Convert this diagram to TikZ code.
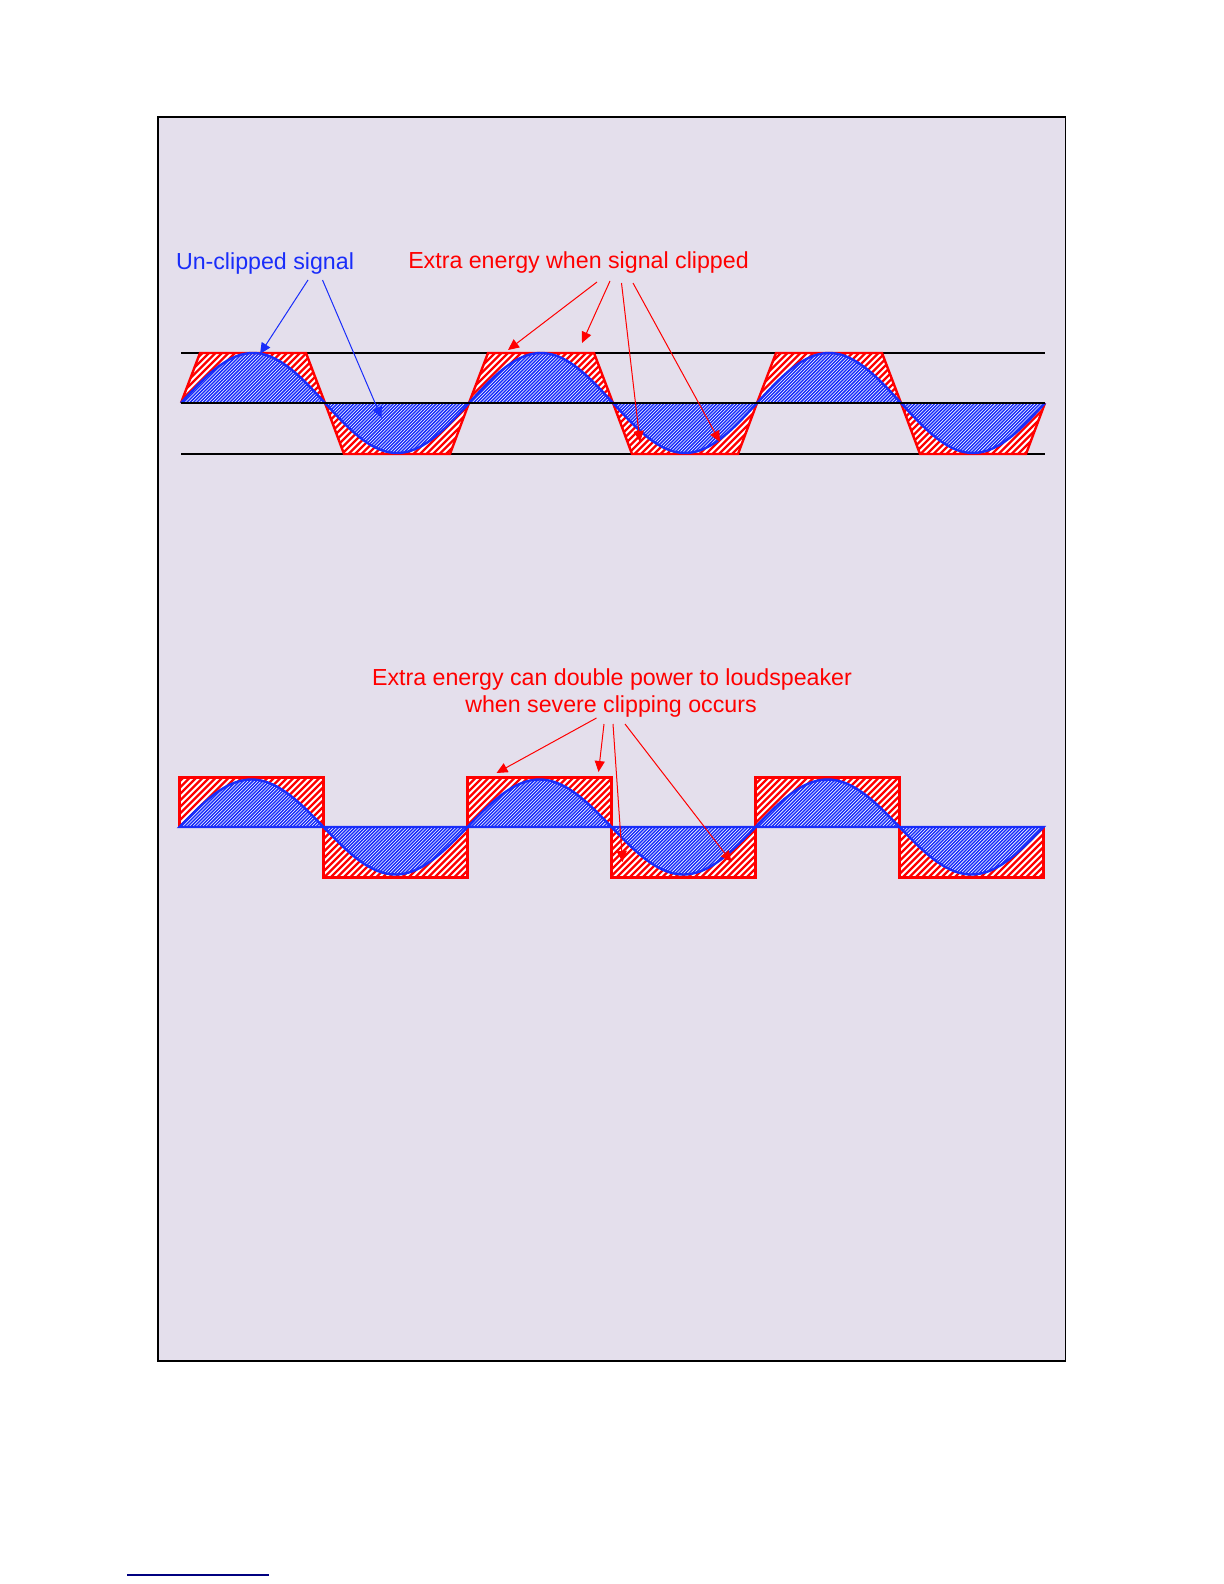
\documentclass[tikz,border=0pt]{standalone}
\usepackage{fontspec}
\setmainfont{Liberation Sans}
\usetikzlibrary{arrows.meta}
\definecolor{panelbg}{RGB}{228,223,236}
\definecolor{myred}{RGB}{255,0,0}
\definecolor{myblue}{RGB}{25,45,250}
\definecolor{navyline}{RGB}{0,0,128}
\begin{document}
\begin{tikzpicture}[x=0.5pt,y=-0.5pt,
  redstripe/.style={draw=myred,line width=1.1pt},
  bluestripe/.style={draw=myblue,line width=0.72pt},
  redline/.style={draw=myred,line width=1.2pt,line join=miter},
  blueline/.style={draw=myblue,line width=1.2pt},
  guide/.style={draw=black,line width=0.7pt},
  redtxt/.style={text=myred,font=\fontsize{11.6}{14}\selectfont,inner sep=0pt,anchor=base},
  bluetxt/.style={text=myblue,font=\fontsize{11.6}{14}\selectfont,inner sep=0pt,anchor=base},
  redarrow/.style={draw=myred,line width=0.5pt,-{Triangle[length=5.5pt,width=5pt]}},
  bluearrow/.style={draw=myblue,line width=0.5pt,-{Triangle[length=5.5pt,width=5pt]}}]
\useasboundingbox (0,0) rectangle (1224,1584);
% panel
\draw[fill=panelbg,draw=black,line width=0.8pt] (158,117) rectangle (1065.5,1361);
% ---------------- top waveform ----------------
\draw[guide] (181,353) -- (1045,353);
\draw[guide] (181,454) -- (1045,454);
% red hatched clipped-signal trapezoids
\begin{scope}
  \clip \foreach \k in {0,288,576} {({181+\k},403) -- ({200+\k},353) -- ({306+\k},353) -- ({325+\k},403) -- cycle ({325+\k},403) -- ({344+\k},454) -- ({450+\k},454) -- ({469+\k},403) -- cycle};
  \fill[white] (170,340) rectangle (1060,470);
  \foreach \i in {0,...,155} \draw[redstripe] ({40+6.5*\i},470) -- ({170+6.5*\i},340);
\end{scope}
% blue hatched sine
\begin{scope}
  \clip plot[domain=181:1045,samples=241,smooth] (\x,{403-50*sin(1.25*(\x-181))}) -- cycle;
  \fill[white] (170,340) rectangle (1060,470);
  \foreach \i in {0,...,305} \draw[bluestripe] ({40+3.3*\i},470) -- ({170+3.3*\i},340);
\end{scope}
\foreach \k in {0,288,576}{
  \draw[redline] ({181+\k},403) -- ({200+\k},353) -- ({306+\k},353) -- ({325+\k},403);
  \draw[redline] ({325+\k},403) -- ({344+\k},454) -- ({450+\k},454) -- ({469+\k},403);
}
\draw[blueline] plot[domain=181:1045,samples=241,smooth] (\x,{403-50*sin(1.25*(\x-181))});
\draw[guide] (181,403) -- (1045,403);
% labels top
\node[bluetxt] (uc) at (265,269) {Un-clipped signal};
\node[redtxt] (ex1) at (578.5,268) {Extra energy when signal clipped};
\coordinate (ucA) at (308,280); \coordinate (ucB) at (322.5,280);
\coordinate (ucTa) at (260,354); \coordinate (ucTb) at (381.5,418);
\draw[bluearrow] (ucA) -- (ucTa);
\draw[bluearrow] (ucB) -- (ucTb);
\coordinate (e1a) at (597,282); \coordinate (e1b) at (610,281);
\coordinate (e1c) at (621.5,283); \coordinate (e1d) at (633,283);
\coordinate (t1a) at (508,350); \coordinate (t1b) at (582,343);
\coordinate (t1c) at (640,442); \coordinate (t1d) at (720,442);
\draw[redarrow] (e1a) -- (t1a);
\draw[redarrow] (e1b) -- (t1b);
\draw[redarrow] (e1c) -- (t1c);
\draw[redarrow] (e1d) -- (t1d);
% ---------------- bottom waveform ----------------
\begin{scope}
  \clip \foreach \k in {0,288,576} {({179.5+\k},777.5) rectangle ({323.5+\k},827) ({323.5+\k},827) rectangle ({467.5+\k},877.5)};
  \fill[white] (170,765) rectangle (1060,890);
  \foreach \i in {0,...,155} \draw[redstripe] ({45+6.5*\i},890) -- ({170+6.5*\i},765);
\end{scope}
\begin{scope}
  \clip plot[domain=179.5:1043.5,samples=241,smooth] (\x,{827-47.5*sin(1.25*(\x-179.5))}) -- cycle;
  \fill[white] (170,765) rectangle (1060,890);
  \foreach \i in {0,...,305} \draw[bluestripe] ({45+3.3*\i},890) -- ({170+3.3*\i},765);
\end{scope}
\foreach \k in {0,288,576}{
  \draw[redline] ({179.5+\k},777.5) rectangle ({323.5+\k},827);
  \draw[redline] ({323.5+\k},827) rectangle ({467.5+\k},877.5);
}
\draw[blueline] plot[domain=179.5:1043.5,samples=241,smooth] (\x,{827-47.5*sin(1.25*(\x-179.5))}) -- cycle;
% labels bottom
\node[redtxt] (ex2) at (612,685) {Extra energy can double power to loudspeaker};
\node[redtxt] (ex3) at (611,712.7) {when severe clipping occurs};
\coordinate (e2a) at (596.5,718); \coordinate (e2b) at (604,724);
\coordinate (e2c) at (613,724); \coordinate (e2d) at (625,724);
\coordinate (t2a) at (496.5,773); \coordinate (t2b) at (598.5,772);
\coordinate (t2c) at (622.5,862); \coordinate (t2d) at (731.5,862);
\draw[redarrow] (e2a) -- (t2a);
\draw[redarrow] (e2b) -- (t2b);
\draw[redarrow] (e2c) -- (t2c);
\draw[redarrow] (e2d) -- (t2d);
% footnote rule
\coordinate (fnL) at (127,1575); \coordinate (fnR) at (269,1575);
\draw[navyline,line width=0.7pt] (fnL) -- (fnR);
\end{tikzpicture}
\end{document}
